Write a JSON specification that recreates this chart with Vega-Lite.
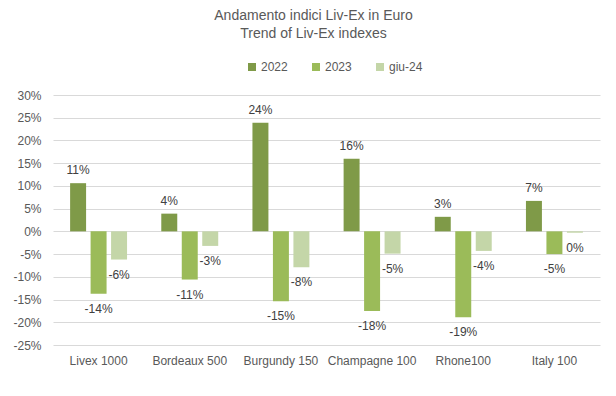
{
  "$schema": "https://vega.github.io/schema/vega-lite/v6.json",
  "autosize": "none",
  "width": 547,
  "height": 250,
  "padding": {"left": 53, "top": 95, "right": 16, "bottom": 51},
  "background": "white",
  "config": {
    "view": {"stroke": null},
    "font": "Liberation Sans",
    "locale": {"number": {"decimal": ".", "thousands": ",", "grouping": [3], "currency": ["$", ""], "minus": "-"}}
  },
  "title": {
    "text": ["Andamento indici Liv-Ex in Euro", "Trend of Liv-Ex indexes"],
    "fontSize": 14,
    "fontWeight": "normal",
    "color": "#595959",
    "lineHeight": 18,
    "anchor": "middle",
    "offset": 20,
    "dx": -13
  },
  "data": {
    "values": [
      {"index": "Livex 1000", "series": "2022", "value": 0.106},
      {"index": "Livex 1000", "series": "2023", "value": -0.137},
      {"index": "Livex 1000", "series": "giu-24", "value": -0.062},
      {"index": "Bordeaux 500", "series": "2022", "value": 0.039},
      {"index": "Bordeaux 500", "series": "2023", "value": -0.106},
      {"index": "Bordeaux 500", "series": "giu-24", "value": -0.032},
      {"index": "Burgundy 150", "series": "2022", "value": 0.239},
      {"index": "Burgundy 150", "series": "2023", "value": -0.154},
      {"index": "Burgundy 150", "series": "giu-24", "value": -0.079},
      {"index": "Champagne 100", "series": "2022", "value": 0.160},
      {"index": "Champagne 100", "series": "2023", "value": -0.175},
      {"index": "Champagne 100", "series": "giu-24", "value": -0.049},
      {"index": "Rhone100", "series": "2022", "value": 0.032},
      {"index": "Rhone100", "series": "2023", "value": -0.189},
      {"index": "Rhone100", "series": "giu-24", "value": -0.043},
      {"index": "Italy 100", "series": "2022", "value": 0.067},
      {"index": "Italy 100", "series": "2023", "value": -0.050},
      {"index": "Italy 100", "series": "giu-24", "value": -0.003}
    ]
  },
  "encoding": {
    "x": {
      "field": "index",
      "type": "nominal",
      "sort": null,
      "scale": {"paddingInner": 0.326, "paddingOuter": 0.163},
      "axis": {
        "title": null,
        "labelAngle": 0,
        "labelFontSize": 12,
        "labelColor": "#595959",
        "labelPadding": 10,
        "ticks": false,
        "domain": false
      }
    },
    "xOffset": {
      "field": "series",
      "type": "nominal",
      "sort": null,
      "scale": {"paddingInner": 0.22, "paddingOuter": 0.11}
    },
    "y": {
      "field": "value",
      "type": "quantitative",
      "scale": {"domain": [-0.25, 0.3], "nice": false, "zero": false},
      "axis": {
        "title": null,
        "format": ".0%",
        "values": [-0.25, -0.2, -0.15, -0.1, -0.05, 0, 0.05, 0.1, 0.15, 0.2, 0.25, 0.3],
        "labelFontSize": 12,
        "labelColor": "#595959",
        "labelPadding": 12,
        "ticks": false,
        "domain": false,
        "gridColor": "#d9d9d9",
        "gridWidth": 1
      }
    }
  },
  "layer": [
    {
      "mark": {"type": "bar"},
      "encoding": {
        "color": {
          "field": "series",
          "type": "nominal",
          "sort": null,
          "scale": {"domain": ["2022", "2023", "giu-24"], "range": ["#7F9A48", "#9BBB59", "#C4D6A8"]},
          "legend": {
            "title": null,
            "orient": "none",
            "direction": "horizontal",
            "legendX": 193,
            "legendY": -34,
            "symbolType": "square",
            "symbolSize": 64,
            "symbolStrokeWidth": 0,
            "labelFontSize": 12,
            "labelColor": "#595959",
            "labelOffset": 3,
            "columnPadding": 22
          }
        }
      }
    },
    {
      "transform": [{"filter": "datum.value >= 0"}],
      "mark": {"type": "text", "baseline": "middle", "dy": -13, "fontSize": 12, "color": "#404040"},
      "encoding": {"text": {"field": "value", "type": "quantitative", "format": ".0%"}}
    },
    {
      "transform": [{"filter": "datum.value < 0"}],
      "mark": {"type": "text", "baseline": "middle", "dy": 15, "fontSize": 12, "color": "#404040"},
      "encoding": {"text": {"field": "value", "type": "quantitative", "format": ".0%"}}
    }
  ]
}
